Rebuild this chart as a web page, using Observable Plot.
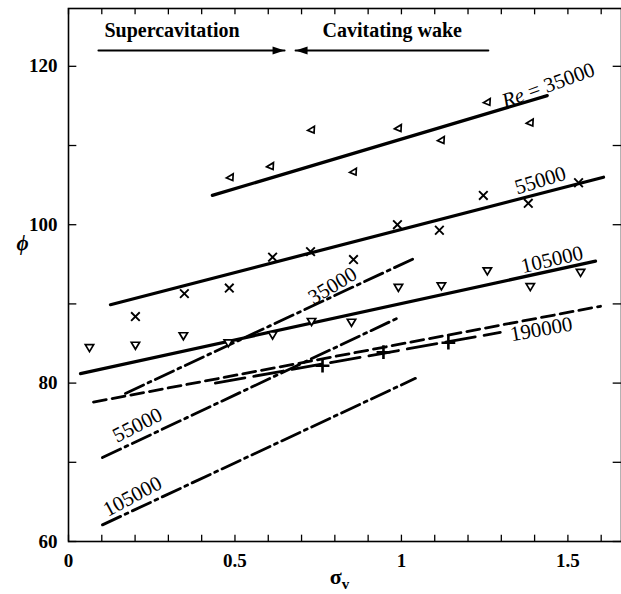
<!DOCTYPE html>
<html><head><meta charset="utf-8">
<script src="https://cdn.jsdelivr.net/npm/d3@7"></script>
<script src="https://cdn.jsdelivr.net/npm/@observablehq/plot@0.6"></script>
<style>
body{margin:0;background:#fff;}
svg text{font-family:'Liberation Serif','DejaVu Serif',serif;}
</style></head><body><div id="chart"></div>
<script>
// ---------- data ----------
// Re = 35000, cavitating wake (left-pointing triangles)
const sigma35 = [0.486, 0.607, 0.730, 0.856, 0.991, 1.120, 1.258, 1.387];
const phi35   = [106.0, 107.4, 112.0, 106.7, 112.2, 110.7, 115.5, 112.9];
// Re = 55000 (crosses)
const sigma55 = [0.201, 0.348, 0.483, 0.613, 0.727, 0.856, 0.988, 1.114, 1.246, 1.381, 1.532];
const phi55   = [88.4, 91.3, 92.0, 95.9, 96.6, 95.6, 100.0, 99.3, 103.7, 102.7, 105.3];
// Re = 105000 (down triangles)
const sigma105 = [0.063, 0.201, 0.345, 0.480, 0.613, 0.730, 0.850, 0.991, 1.120, 1.258, 1.387, 1.538];
const phi105   = [84.5, 84.8, 86.0, 85.1, 86.1, 87.8, 87.7, 92.1, 92.3, 94.2, 92.2, 94.0];
// Re = 190000 (plus)
const sigma190 = [0.763, 0.946, 1.141];
const phi190   = [82.2, 83.9, 85.1];

// fitted lines: end points (sigma, phi)
const lineNames  = ["w35000", "w55000", "w105000", "s35000", "s55000", "s105000", "d190000", "l190000"];
const lineSigma0 = [0.432, 0.126, 0.036, 0.171, 0.102, 0.102, 0.075, 0.441];
const lineSigma1 = [1.438, 1.607, 1.583, 1.036, 0.988, 1.042, 1.598, 1.297];
const linePhi0   = [103.7, 89.9, 81.2, 78.7, 70.6, 62.1, 77.6, 80.0];
const linePhi1   = [116.3, 106.0, 95.4, 95.7, 88.2, 80.6, 89.7, 86.4];

// line labels
const labelText  = ["Re = 35000", "55000", "105000", "190000", "35000", "55000", "105000"];
const labelSigma = [1.441, 1.417, 1.452, 1.420, 0.793, 0.207, 0.192];
const labelPhi   = [117.6, 105.6, 95.6, 86.8, 92.3, 74.7, 65.7];

// regime annotations
const regimeText  = ["Supercavitation", "Cavitating wake"];
const regimeStart = [0.108, 0.763];
const regimeFrom  = [0.090, 1.261];
const regimeTo    = [0.649, 0.682];
const regimePhiText = 123.7;
const regimePhiArrow = 122.0;

// axes
const xTicks = [0, 0.5, 1, 1.5];
const yTicks = [60, 80, 100, 120];
const xMinor = d3.range(0, 17).map(i => i / 10);
const yMinor = [60, 70, 80, 90, 100, 110, 120];
const xLabel = "σv", yLabel = "ϕ";
const yLabelPhi = 97.6, xLabelSigma = 0.814;

// ---------- build tables ----------
const pts = (s, p) => s.map((x, i) => ({sigma: x, phi: p[i]}));
const lines = lineNames.flatMap((n, i) => [
  {name: n, sigma: lineSigma0[i], phi: linePhi0[i]},
  {name: n, sigma: lineSigma1[i], phi: linePhi1[i]}
]);
const lineGroup = n => lines.filter(d => d.name === n);
const labelAngles = [-20, -17, -13, -10, -31, -27, -28];
const labels = labelText.map((t, i) => ({t, sigma: labelSigma[i], phi: labelPhi[i], a: labelAngles[i]}));
const regimes = regimeText.map((t, i) => ({t, sigma: regimeStart[i], phi: regimePhiText}));
const arrows = regimeText.flatMap((t, i) => [
  {name: t, sigma: regimeFrom[i], phi: regimePhiArrow},
  {name: t, sigma: regimeTo[i], phi: regimePhiArrow}
]);

// custom symbols
const triDown = {draw(ctx, size) { const r = Math.sqrt(size / Math.PI);
  ctx.moveTo(0, 1.1 * r); ctx.lineTo(-1.1 * r, -0.75 * r); ctx.lineTo(1.1 * r, -0.75 * r); ctx.closePath(); }};
const triLeft = {draw(ctx, size) { const r = Math.sqrt(size / Math.PI);
  ctx.moveTo(-1.1 * r, 0.2 * r); ctx.lineTo(0.8 * r, -0.95 * r); ctx.lineTo(0.7 * r, 0.95 * r); ctx.closePath(); }};
const headRight = {draw(ctx, size) { const r = Math.sqrt(size / Math.PI);
  ctx.moveTo(0, 0); ctx.lineTo(-3 * r, -r); ctx.lineTo(-3 * r, r); ctx.closePath(); }};
const headLeft = {draw(ctx, size) { const r = Math.sqrt(size / Math.PI);
  ctx.moveTo(0, 0); ctx.lineTo(3 * r, -r); ctx.lineTo(3 * r, r); ctx.closePath(); }};

const xDom = [0, 1.661], yDom = [60, 127.3];
const tY = 0.8, tX = 0.025;

const solid = ["w35000", "w55000", "w105000"];
const dashdot = ["s35000", "s55000", "s105000"];

const chart = Plot.plot({
  width: 621, height: 594,
  marginLeft: 68, marginRight: 0, marginTop: 8, marginBottom: 53,
  x: {domain: xDom, label: null},
  y: {domain: yDom, label: null},
  style: {background: "white", color: "black", fontFamily: "'Liberation Serif', serif"},
  marks: [
    Plot.frame({stroke: "black", strokeWidth: 1.6}),
    Plot.ruleX(xMinor, {x: d => d, y1: yDom[0], y2: yDom[0] + tY, stroke: "black", strokeWidth: 1.3}),
    Plot.ruleX(xMinor, {x: d => d, y1: yDom[1] - tY, y2: yDom[1], stroke: "black", strokeWidth: 1.3}),
    Plot.ruleY(yMinor, {y: d => d, x1: xDom[0], x2: xDom[0] + tX, stroke: "black", strokeWidth: 1.3}),
    Plot.ruleY(yMinor, {y: d => d, x1: xDom[1] - tX, x2: xDom[1], stroke: "black", strokeWidth: 1.3}),
    Plot.axisX(xTicks, {tickSize: 0, tickPadding: 12, tickFormat: d => String(d), fontSize: 19, fontWeight: "bold", label: null}),
    Plot.axisY(yTicks, {tickSize: 0, tickPadding: 11, tickFormat: d => String(d), fontSize: 19, fontWeight: "bold", label: null}),
    // fitted lines
    ...solid.map(n => Plot.line(lineGroup(n), {x: "sigma", y: "phi", stroke: "black", strokeWidth: 3.2})),
    ...dashdot.map(n => Plot.line(lineGroup(n), {x: "sigma", y: "phi", stroke: "black", strokeWidth: 2.8, strokeDasharray: "20,5,3,5"})),
    Plot.line(lineGroup("d190000"), {x: "sigma", y: "phi", stroke: "black", strokeWidth: 2.8, strokeDasharray: "13,6"}),
    Plot.line(lineGroup("l190000"), {x: "sigma", y: "phi", stroke: "black", strokeWidth: 2.8, strokeDasharray: "30,9"}),
    // data points
    Plot.dot(pts(sigma35, phi35), {x: "sigma", y: "phi", symbol: triLeft, r: 3.6, stroke: "black", fill: "white", strokeWidth: 1.7}),
    Plot.dot(pts(sigma55, phi55), {x: "sigma", y: "phi", symbol: "times", r: 4, stroke: "black", strokeWidth: 1.9}),
    Plot.dot(pts(sigma105, phi105), {x: "sigma", y: "phi", symbol: triDown, r: 3.8, stroke: "black", fill: "white", strokeWidth: 1.7}),
    Plot.dot(pts(sigma190, phi190), {x: "sigma", y: "phi", symbol: "plus", r: 4.5, stroke: "black", strokeWidth: 2.6}),
    // line labels
    Plot.text(labels, {x: "sigma", y: "phi", text: "t", rotate: "a", fontSize: 21, fill: "black"}),
    // regime annotation
    Plot.text(regimes, {x: "sigma", y: "phi", text: "t", textAnchor: "start", lineAnchor: "bottom", fontSize: 20, fontWeight: "bold", fill: "black"}),
    Plot.line(arrows, {x: "sigma", y: "phi", z: "name", stroke: "black", strokeWidth: 2}),
    Plot.dot([arrows[1]], {x: "sigma", y: "phi", symbol: headRight, r: 4, fill: "black", stroke: "none"}),
    Plot.dot([arrows[3]], {x: "sigma", y: "phi", symbol: headLeft, r: 4, fill: "black", stroke: "none"}),
    // axis labels
    Plot.text([yLabel], {text: d => d, y: () => yLabelPhi, frameAnchor: "left", dx: -52, fontSize: 21, fontStyle: "italic", fontWeight: "bold", fill: "black"}),
    Plot.text([xLabel], {text: d => d, x: () => xLabelSigma, frameAnchor: "bottom", dy: 42, fontSize: 22, fontWeight: "bold", fill: "black"})
  ]
});

const svg = d3.select(chart);
svg.selectAll("text").filter(function() { return this.textContent === "Re = 35000"; })
  .html('<tspan font-style="italic">Re</tspan> = 35000');
svg.selectAll("text").filter(function() { return this.textContent === "σv"; })
  .html('σ<tspan dy="5" font-size="15">v</tspan>');
document.getElementById("chart").append(chart);
</script></body></html>
